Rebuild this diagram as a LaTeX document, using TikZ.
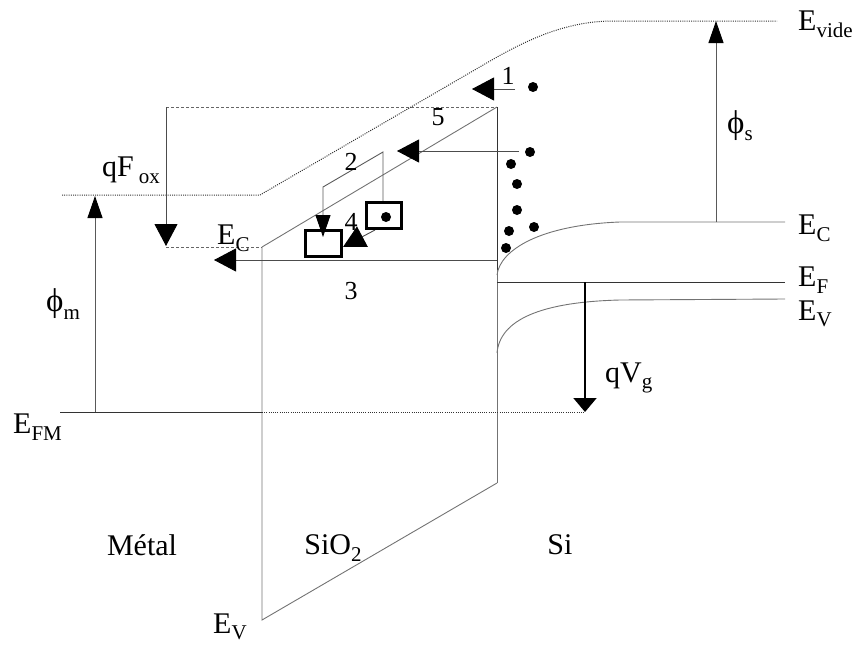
\documentclass[tikz,border=0pt]{standalone}
\usepackage{fontspec}
\setmainfont{Liberation Serif}
\usetikzlibrary{arrows.meta}
\newcommand\lsub[1]{\raisebox{-0.22em}{\fontsize{21}{21}\selectfont #1}}
\begin{document}
\begin{tikzpicture}[x=1pt,y=-1pt,
  band/.style={draw=black!55, line width=0.9pt},
  dark/.style={draw=black!80, line width=0.9pt},
  vac/.style={draw=black!80, line width=1pt, dash pattern=on 1pt off 1.2pt},
  dashline/.style={draw=black!60, line width=0.9pt, dash pattern=on 3pt off 2pt},
  arr/.style={draw=black!65, line width=0.9pt, -{Triangle[length=22pt,width=15pt,color=black]}},
  bigarr/.style={draw=black!70, line width=0.9pt, -{Triangle[length=22pt,width=23pt,color=black]}},
  vgarr/.style={draw=black, line width=2pt, -{Triangle[length=14pt,width=23pt,color=black]}},
  trap/.style={draw=black, line width=3pt},
  edot/.style={circle, fill=black, inner sep=0pt, minimum size=10pt},
  lab/.style={font=\fontsize{30}{31}\selectfont, inner sep=0pt},
  num/.style={font=\fontsize{26}{26}\selectfont, inner sep=0pt}
]
\useasboundingbox (0,0) rectangle (857,645);

% key coordinates
\coordinate (oxTL) at (262,247);
\coordinate (oxTR) at (497,107);
\coordinate (oxBL) at (262,620);
\coordinate (oxBR) at (497,483);

% vacuum level
\draw[vac] (62,195) -- (260,195) -- (490,61) .. controls (525,41) and (565,21) .. (613,21) -- (777,21);

% oxide bands
\draw[band] (oxTL) -- (oxTR);
\draw[band] (oxTL) -- (oxBL) -- (oxBR);
\draw[dark] (oxTR) -- (497,270);
\draw[band] (497,270) -- (oxBR);

% dashed lines qFox
\draw[dashline] (166,107) -- (oxTR);
\draw[dashline] (166,247) -- (oxTL);
\draw[bigarr] (166,107) -- (166,246);

% metal Fermi level
\draw[dark] (60,412) -- (262,412);
\draw[vac] (262,412) -- (585,412);
\draw[arr] (95,412) -- (95,196);

% Si bands
\draw[band] (497,275) .. controls (500,250) and (540,225) .. (620,222) -- (785,222);
\draw[dark] (497,282) -- (785,282);
\draw[band] (497,353) .. controls (500,320) and (540,302) .. (620,300) -- (785,299);

% phi_s and qVg
\draw[arr] (716,222) -- (716,21);
\draw[vgarr] (585,282) -- (585,412);

% transport arrows
\draw[bigarr] (497,260) -- (214,260);
\draw[bigarr] (519,151) -- (397,151);
\draw[bigarr] (515,89) -- (472,89);
\draw[arr] (383,202) -- (383,152) -- (323,187) -- (323,237);
\draw[bigarr] (375,230) -- (343,247);

% traps
\node[trap, minimum width=36pt, minimum height=26pt, inner sep=0pt] (trapL) at (323,243) {};
\node[trap, minimum width=35pt, minimum height=26pt, inner sep=0pt] (trapR) at (383.5,215) {};
\node[edot] (d0) at (386,217) {};

% electrons
\node[edot] (e1) at (533,87) {};
\node[edot] (e2) at (530,152) {};
\node[edot] (e3) at (511,164) {};
\node[edot] (e4) at (517,184) {};
\node[edot] (e5) at (517,210) {};
\node[edot] (e6) at (509,231) {};
\node[edot] (e7) at (534,227) {};
\node[edot] (e8) at (506,248) {};

% labels
\node[lab, anchor=west] (lvide) at (798,24) {E\lsub{vide}};
\node[lab, anchor=west] (lEC) at (798,228) {E\lsub{C}};
\node[lab, anchor=west] (lEF) at (798,280) {E\lsub{F}};
\node[lab, anchor=west] (lEV) at (798,314) {E\lsub{V}};
\node[lab, anchor=west] (lphis) at (727,126) {\fontsize{33}{33}\selectfont ϕ\lsub{s}};
\node[lab, anchor=west] (lqvg) at (605,378) {qV\lsub{g}};
\node[lab, anchor=west] (lphim) at (46,304) {\fontsize{33}{33}\selectfont ϕ\lsub{m}};
\node[lab, anchor=west] (lqf) at (102,170) {qF\,\lsub{ox}};
\node[lab, anchor=west] (lECox) at (217,238) {E\lsub{C}};
\node[lab, anchor=west] (lEFM) at (13,427) {E\lsub{FM}};
\node[lab, anchor=west] (lEVox) at (213,627) {E\lsub{V}};
\node[lab] (lmetal) at (142,545) {Métal};
\node[lab] (lsio) at (333,548) {SiO\lsub{2}};
\node[lab] (lsi) at (560,545) {Si};

\node[num] (n1) at (508,76) {1};
\node[num] (n2) at (351,162) {2};
\node[num] (n3) at (351,291) {3};
\node[num] (n4) at (351,222) {4};
\node[num] (n5) at (438,117) {5};
\end{tikzpicture}
\end{document}
